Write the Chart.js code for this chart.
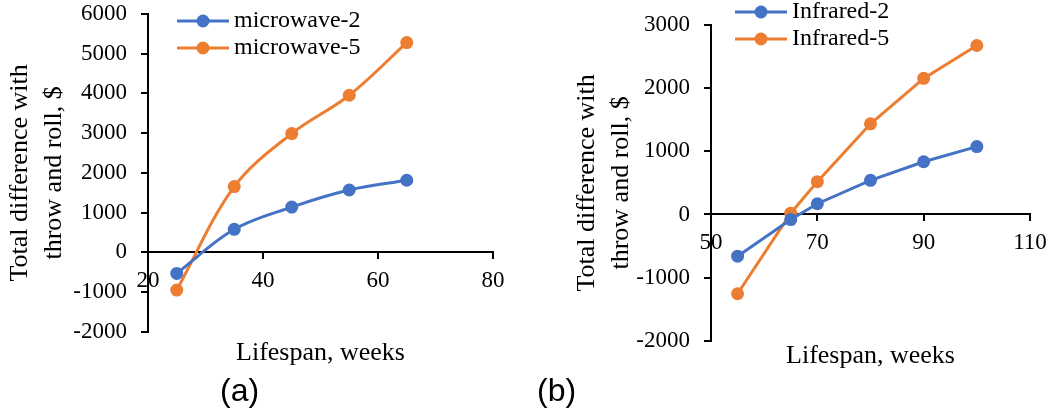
<!DOCTYPE html>
<html>
<head>
<meta charset="utf-8">
<script src="https://cdn.jsdelivr.net/npm/chart.js@4.4.0/dist/chart.umd.min.js"></script>
<style>
  body { margin: 0; background: #fff; }
  #wrap { position: relative; width: 1060px; height: 414px; overflow: hidden; }
  .box { position: absolute; top: 0; width: 530px; height: 414px; }
  .tag { position: absolute; top: 372px; font: 32px "Liberation Sans", Arial, sans-serif; color: #000; }
</style>
</head>
<body>
<div id="wrap">
  <div class="box" style="left:0"><canvas id="chartA"></canvas></div>
  <div class="box" style="left:530px"><canvas id="chartB"></canvas></div>
  <div class="tag" style="left:220px">(a)</div>
  <div class="tag" style="left:537px">(b)</div>
</div>
<script>
// (a) microwave
const weeksA = [25, 35, 45, 55, 65];
const microwave2 = [-530, 580, 1140, 1570, 1815];
const microwave5 = [-950, 1655, 2990, 3955, 5280];

// (b) infrared
const weeksB = [55, 65, 70, 80, 90, 100];
const infrared2 = [-660, -80, 170, 540, 835, 1075];
const infrared5 = [-1255, 20, 520, 1435, 2155, 2675];

const yTitle = ["Total difference with", "throw and roll, $"];
const xTitle = "Lifespan, weeks";

const BLUE = "#4472C4";
const ORANGE = "#ED7D31";
const SERIF = "'Liberation Serif', 'Times New Roman', serif";

Chart.defaults.color = "#000";
Chart.defaults.font.family = SERIF;

function pairs(xs, ys) {
  return xs.map((x, i) => ({ x: x, y: ys[i] }));
}

// line + dot picture for the legend (excel style)
// drawn a bit off centre so the text lands where it should
function legendSymbol(color) {
  const c = document.createElement("canvas");
  c.width = 66;
  c.height = 16;
  const g = c.getContext("2d");
  g.strokeStyle = color;
  g.lineWidth = 3;
  g.beginPath();
  g.moveTo(14, 8);
  g.lineTo(66, 8);
  g.stroke();
  g.fillStyle = color;
  g.beginPath();
  g.arc(40, 8, 6.5, 0, Math.PI * 2);
  g.fill();
  return c;
}

function makeDataset(label, xs, ys, color, tension) {
  return {
    label: label,
    data: pairs(xs, ys),
    showLine: true,
    borderColor: color,
    backgroundColor: color,
    borderWidth: 3,
    pointRadius: 6.5,
    pointBorderWidth: 0,
    pointBackgroundColor: color,
    tension: tension,
  };
}

function renderChart(id, cfg) {
  const ctx = document.getElementById(id).getContext("2d");

  // move the legend where it sits in the picture
  const legendMover = {
    id: "legendMover",
    afterLayout(chart) {
      const lg = chart.legend;
      lg.left = cfg.legendX;
      lg.top = cfg.legendY;
      lg.right = lg.left + 300;
      lg.bottom = lg.top + 70;
    },
  };

  return new Chart(ctx, {
    type: "scatter",
    data: { datasets: cfg.datasets },
    plugins: [legendMover],
    options: {
      responsive: true,
      maintainAspectRatio: false,
      animation: false,
      layout: { padding: cfg.padding },
      plugins: {
        tooltip: { enabled: false },
        legend: {
          position: "chartArea",
          align: "start",
          labels: {
            font: { size: 24, family: SERIF },
            color: "#000",
            padding: 3,
            usePointStyle: true,
            pointStyleWidth: 52,
            generateLabels(chart) {
              const items = Chart.defaults.plugins.legend.labels.generateLabels(chart);
              items.forEach((it, i) => {
                it.pointStyle = legendSymbol(chart.data.datasets[i].borderColor);
              });
              return items;
            },
          },
        },
      },
      scales: {
        x: {
          type: "linear",
          position: { y: 0 },
          min: cfg.xMin,
          max: cfg.xMax,
          ticks: { stepSize: 20, padding: 9, font: { size: 23 }, color: "#000", callback: (v) => String(v) },
          grid: { drawOnChartArea: false, drawTicks: true, tickLength: 6, color: "#000", lineWidth: 2 },
          border: { display: true, color: "#000", width: 2 },
        },
        // only carries the x title under the plot
        x2: {
          type: "linear",
          position: "bottom",
          min: cfg.xMin,
          max: cfg.xMax,
          ticks: { display: false },
          grid: { display: false, drawTicks: false },
          border: { display: false },
          title: {
            display: true,
            text: xTitle,
            font: { size: 26, family: SERIF, lineHeight: 1.2 },
            color: "#000",
            padding: { top: cfg.xTitleGap, bottom: 0 },
          },
        },
        y: {
          type: "linear",
          position: "left",
          min: cfg.yMin,
          max: cfg.yMax,
          afterFit(scale) {
            scale.width = cfg.yWidth;
            scale.paddingTop = 0;
            scale.paddingBottom = 0;
          },
          ticks: { stepSize: 1000, padding: 14, font: { size: 23 }, color: "#000", callback: (v) => String(v) },
          grid: { drawOnChartArea: false, drawTicks: true, tickLength: 7, color: "#000", lineWidth: 2 },
          border: { display: true, color: "#000", width: 2 },
          title: {
            display: true,
            text: yTitle,
            font: { size: 26, family: SERIF, lineHeight: 1.3 },
            color: "#000",
            padding: { top: 3, bottom: 0 },
          },
        },
      },
    },
  });
}

renderChart("chartA", {
  datasets: [
    makeDataset("microwave-2", weeksA, microwave2, BLUE, 0.35),
    makeDataset("microwave-5", weeksA, microwave5, ORANGE, 0.35),
  ],
  xMin: 20, xMax: 80, yMin: -2000, yMax: 6000,
  padding: { left: 0, top: 14, right: 37, bottom: 45 },
  yWidth: 148,
  xTitleGap: 6,
  legendX: 167,
  legendY: 6,
});

renderChart("chartB", {
  datasets: [
    makeDataset("Infrared-2", weeksB, infrared2, BLUE, 0),
    makeDataset("Infrared-5", weeksB, infrared5, ORANGE, 0),
  ],
  xMin: 50, xMax: 110, yMin: -2000, yMax: 3000,
  padding: { left: 37, top: 25, right: 30, bottom: 42 },
  yWidth: 144,
  xTitleGap: 0,
  legendX: 195,
  legendY: -3,
});
</script>
</body>
</html>
